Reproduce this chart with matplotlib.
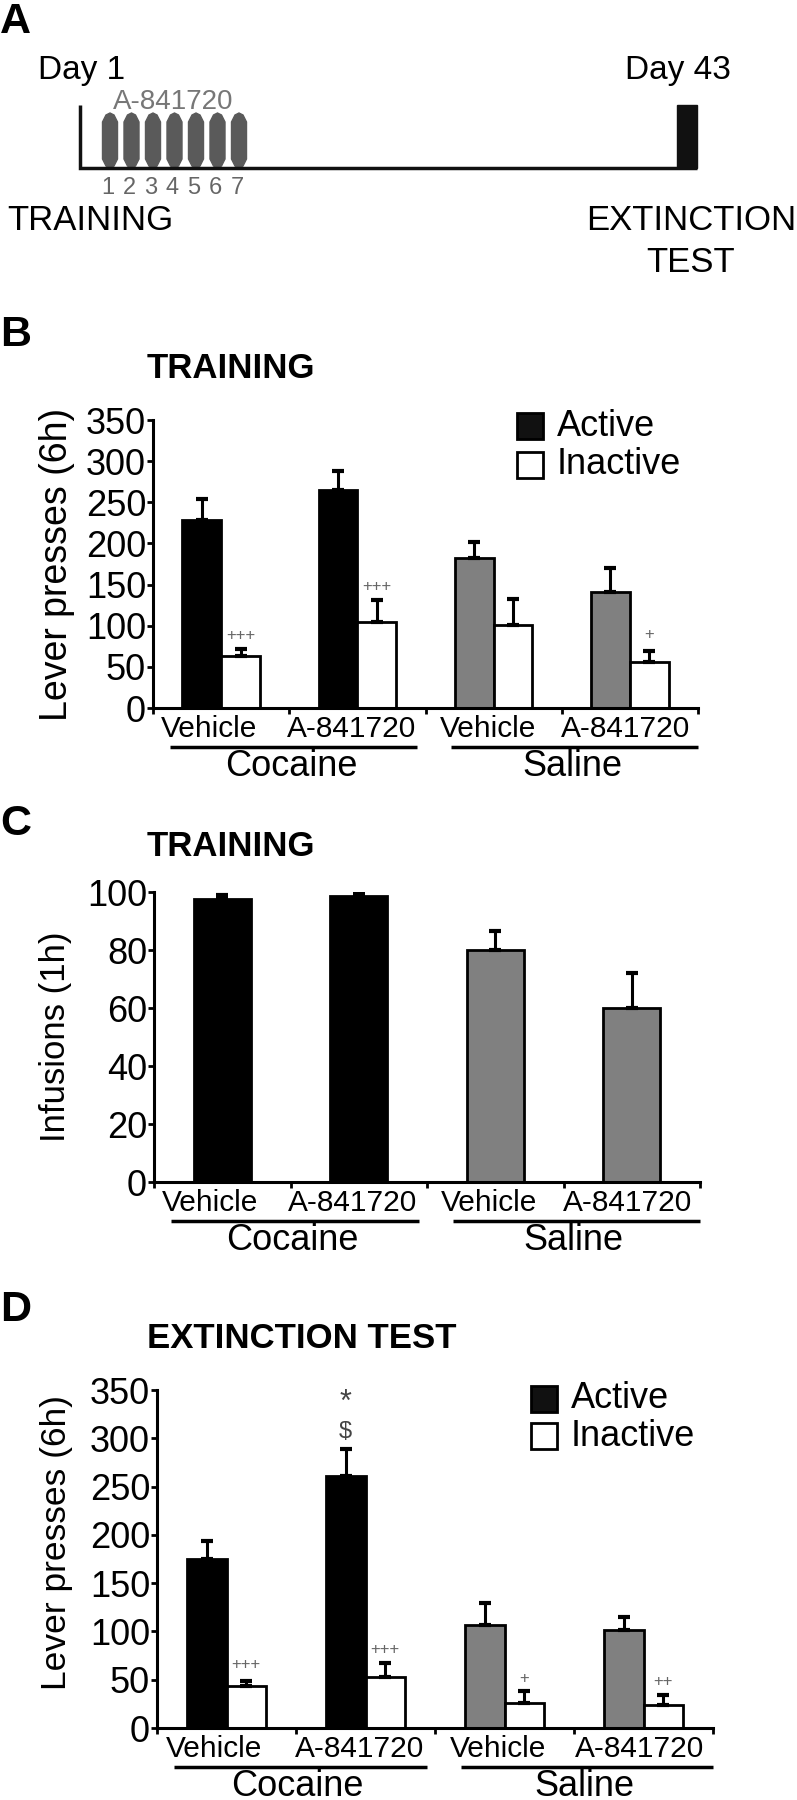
import matplotlib
matplotlib.use('Agg')
import matplotlib.pyplot as plt
from matplotlib.patches import Polygon, Rectangle
from matplotlib.transforms import blended_transform_factory, offset_copy

plt.rcParams['font.family'] = ['Liberation Sans', 'DejaVu Sans']

W, H = 797, 1800

# ---- data ----
treatments = ['Vehicle', 'A-841720', 'Vehicle', 'A-841720']
drugs = ['Cocaine', 'Saline']
active_colors = ['black', 'black', '#808080', '#808080']

# B: training lever presses (6h)
b_active = [228, 265, 182, 141]
b_active_err = [26, 23, 20, 29]
b_inactive = [63, 104, 101, 56]
b_inactive_err = [9, 27, 31, 13]
b_sig = ['+++', '+++', '', '+']
b_sig_y = [88, 148, 0, 89]

# C: training infusions (1h)
c_infusions = [97.5, 98.6, 80.1, 60.1]
c_err = [1.4, 1.2, 6.3, 12.1]

# D: extinction test lever presses (6h)
d_active = [174.5, 261, 107, 101]
d_active_err = [19.5, 28, 22, 14]
d_inactive = [43.4, 53.2, 26, 24.3]
d_inactive_err = [5.5, 13.8, 12.7, 10.1]
d_sig = ['+++', '+++', '+', '++']
d_sig_y = [66, 81, 51, 48.5]
d_star_y = 337     # * above A-841720 cocaine active
d_dollar_y = 306   # $ above A-841720 cocaine active

# A: schedule
injection_days = [1, 2, 3, 4, 5, 6, 7]

# small left shifts of the treatment labels, in pixels (as in the original)
label_shift_px = [-12, -6, -6, -4]


def fig_rect(left, top, right, bottom):
    return [left / W, 1 - bottom / H, (right - left) / W, (bottom - top) / H]


fig = plt.figure(figsize=(W / 100, H / 100), dpi=100)


def ftext(x, y, s, **kw):
    fig.text(x / W, 1 - y / H, s, **kw)


# ---- panel A ----
axa = fig.add_axes([0, 1 - 290 / H, 1, 290 / H])
axa.set_xlim(0, W)
axa.set_ylim(290, 0)
axa.axis('off')
axa.plot([80, 80, 697], [105, 168, 168], color='#111111', lw=2.5,
         solid_joinstyle='miter', solid_capstyle='butt')
axa.add_patch(Rectangle((677, 105), 20, 63, color='#111111'))
for d in injection_days:
    cx = 110 + (d - 1) * 21.5
    hw = 7.5
    axa.add_patch(Polygon([(cx - hw, 122), (cx - 4, 115), (cx, 113),
                           (cx + 4, 115), (cx + hw, 122),
                           (cx + hw, 159), (cx + 4, 166), (cx, 168),
                           (cx - 4, 166), (cx - hw, 159)],
                          closed=True, color='#5a5a5a'))
    axa.text(cx - 2, 188, str(d), ha='center', va='center', fontsize=17,
             color='#666666')
axa.text(173, 102, 'A-841720', ha='center', va='center', fontsize=20,
         color='#777777')
axa.text(38, 79, 'Day 1', ha='left', va='baseline', fontsize=24)
axa.text(625, 79, 'Day 43', ha='left', va='baseline', fontsize=24)
axa.text(7, 220, 'TRAINING', ha='left', va='center', fontsize=25)
axa.text(691, 220, 'EXTINCTION', ha='center', va='center', fontsize=25)
axa.text(691, 262, 'TEST', ha='center', va='center', fontsize=25)
ftext(0, 22, 'A', fontsize=31, fontweight='bold', va='center')


# ---- helpers for bar panels ----
def style_axes(ax, ymax, ystep, ylabel, lab_size, lab_x_px, lab_y=0.5):
    ax.set_xlim(0, 4)
    ax.set_ylim(0, ymax)
    ax.set_yticks(range(0, ymax + 1, ystep))
    ax.set_xticks([0, 1, 2, 3, 4])
    ax.set_xticklabels([])
    for s in ['top', 'right']:
        ax.spines[s].set_visible(False)
    for s in ['left', 'bottom']:
        ax.spines[s].set_linewidth(2.2)
    ax.tick_params(axis='y', length=4, width=2, pad=1, labelsize=26)
    ax.tick_params(axis='x', length=4, width=2, direction='out')
    ax.set_ylabel(ylabel, fontsize=lab_size, va='center')
    bbox = ax.get_position()
    left_px = bbox.x0 * W
    width_px = bbox.width * W
    ax.yaxis.set_label_coords((lab_x_px - left_px) / width_px, lab_y)
    ax.patch.set_alpha(0)


def group_labels(ax, h_px):
    tr = blended_transform_factory(ax.transData, ax.transAxes)
    for i, t in enumerate(treatments):
        tr_i = offset_copy(tr, fig=fig, x=label_shift_px[i], y=0,
                           units='dots')
        ax.text(i + 0.5, -21 / h_px, t, transform=tr_i, ha='center',
                va='center', fontsize=21.5, clip_on=False)
    for j, (x0, x1) in enumerate([(0.125, 1.94), (2.19, 4.0)]):
        ax.plot([x0, x1], [-38.5 / h_px] * 2, transform=tr, color='black',
                lw=2.5, clip_on=False, solid_capstyle='butt')
        ax.text((x0 + x1) / 2 - 0.02, -58 / h_px, drugs[j], transform=tr,
                ha='center', va='center', fontsize=26, clip_on=False)


def paired_bars(ax, act, act_err, inact, inact_err):
    xs = [i + 0.5 for i in range(4)]
    w = 0.285
    ekw = dict(elinewidth=2.2, capthick=3, ecolor='black')
    ax.bar([x - w / 2 for x in xs], act, w, color=active_colors,
           edgecolor='black', linewidth=2)
    ax.errorbar([x - w / 2 for x in xs], act, yerr=[[0] * 4, act_err],
                fmt='none', capsize=4, **ekw)
    ax.bar([x + w / 2 for x in xs], inact, w, color='white',
           edgecolor='black', linewidth=2)
    ax.errorbar([x + w / 2 for x in xs], inact, yerr=[[0] * 4, inact_err],
                fmt='none', capsize=4, **ekw)
    return xs, w


def legend_keys(x, y_top, gap):
    for k, (fc, lab) in enumerate([('#111111', 'Active'), ('white', 'Inactive')]):
        yc = y_top + k * gap
        fig.patches.append(Rectangle((x / W, 1 - (yc + 13) / H), 26 / W, 26 / H,
                                     transform=fig.transFigure, facecolor=fc,
                                     edgecolor='black', linewidth=2))
        ftext(x + 40, yc, lab, fontsize=26, va='center', ha='left')


# ---- panel B ----
axb = fig.add_axes(fig_rect(153, 420, 698, 708))
style_axes(axb, 350, 50, 'Lever presses (6h)', 27, 57)
xs, w = paired_bars(axb, b_active, b_active_err, b_inactive, b_inactive_err)
for i in range(4):
    if b_sig[i]:
        axb.text(xs[i] + w / 2, b_sig_y[i], b_sig[i], ha='center', va='center',
                 fontsize=12, color='#666666')
group_labels(axb, 288)
legend_keys(517, 426, 39)
ftext(0, 335, 'B', fontsize=31, fontweight='bold', va='center')
ftext(147, 368, 'TRAINING', fontsize=25, fontweight='bold', va='center')

# ---- panel C ----
axc = fig.add_axes(fig_rect(154, 892, 700, 1182))
style_axes(axc, 100, 20, 'Infusions (1h)', 25, 56)
cx = [i + 0.5 for i in range(4)]
axc.bar(cx, c_infusions, 0.42, color=active_colors, edgecolor='black',
        linewidth=2)
axc.errorbar(cx, c_infusions, yerr=[[0] * 4, c_err], fmt='none', capsize=4,
             elinewidth=2.2, capthick=3, ecolor='black')
group_labels(axc, 290)
ftext(0, 824, 'C', fontsize=31, fontweight='bold', va='center')
ftext(147, 846, 'TRAINING', fontsize=25, fontweight='bold', va='center')

# ---- panel D ----
axd = fig.add_axes(fig_rect(157, 1390, 713, 1728))
style_axes(axd, 350, 50, 'Lever presses (6h)', 25.5, 57, 0.55)
xs, w = paired_bars(axd, d_active, d_active_err, d_inactive, d_inactive_err)
for i in range(4):
    axd.text(xs[i] + w / 2, d_sig_y[i], d_sig[i], ha='center', va='center',
             fontsize=12, color='#666666')
axd.text(xs[1] - w / 2, d_star_y, '*', ha='center', va='center',
         fontsize=22, color='#444444')
axd.text(xs[1] - w / 2, d_dollar_y, '$', ha='center', va='center',
         fontsize=17, color='#444444')
group_labels(axd, 338)
legend_keys(531, 1399, 37)
ftext(0, 1310, 'D', fontsize=31, fontweight='bold', va='center')
ftext(147, 1338, 'EXTINCTION TEST', fontsize=25, fontweight='bold', va='center')

fig.savefig('out.png', dpi=100)
